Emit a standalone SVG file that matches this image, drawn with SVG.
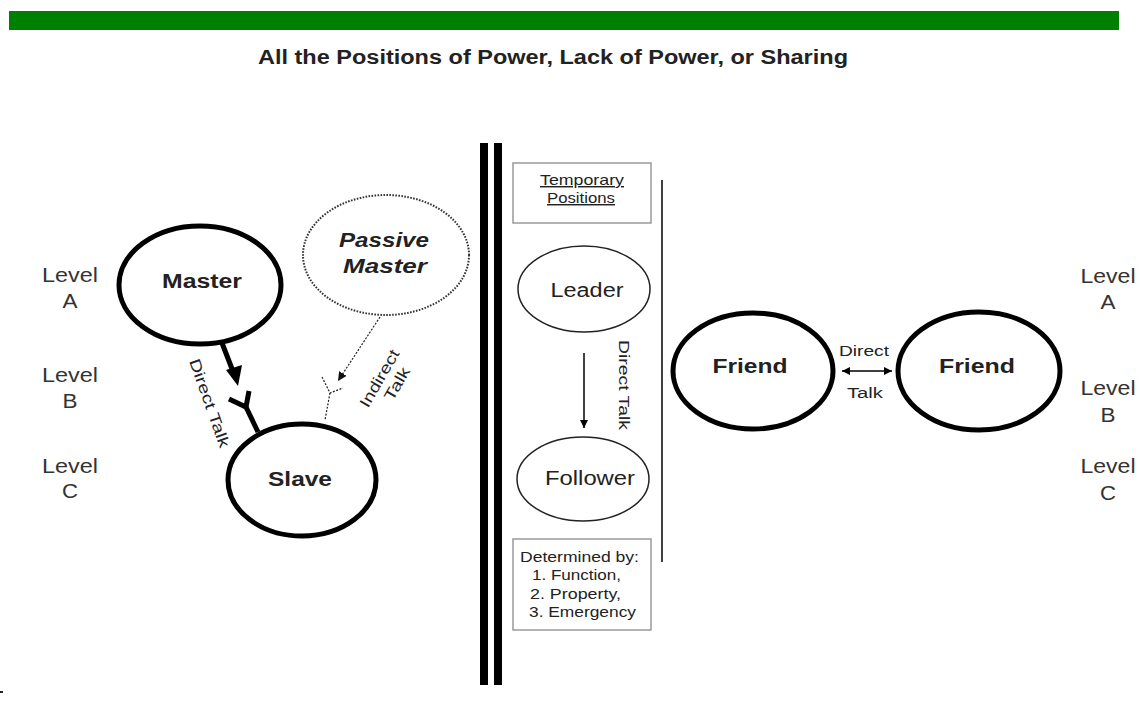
<svg xmlns="http://www.w3.org/2000/svg" width="1140" height="702" viewBox="0 0 1140 702">
  <defs>
    <style>
      text { font-family: "Liberation Sans", Arial, sans-serif; fill: #222; }
      .title { font-size: 19.5px; font-weight: bold; text-anchor: middle; }
      .lvl { font-size: 19.5px; text-anchor: middle; fill: #333; }
      .bold { font-size: 19.5px; font-weight: bold; text-anchor: middle; }
      .boldit { font-size: 19.5px; font-weight: bold; font-style: italic; text-anchor: middle; }
      .reg { font-size: 19.5px; text-anchor: middle; }
      .small { font-size: 15.5px; }
      .note { font-size: 14.5px; }
      .heavy { fill: #fff; stroke: #000; stroke-width: 5; }
      .thin { fill: #fff; stroke: #222; stroke-width: 1.5; }
      .dotted { fill: #fff; stroke: #333; stroke-width: 2; stroke-dasharray: 1.6 1.4; }
      .box { fill: #fff; stroke: #8a8a8a; stroke-width: 1.3; }
    </style>
    <marker id="tipThin" viewBox="0 0 10 10" refX="10" refY="5" markerWidth="8" markerHeight="8" markerUnits="userSpaceOnUse" orient="auto-start-reverse">
      <path d="M0,0 L10,5 L0,10 Z" fill="#000"/>
    </marker>
    <marker id="tipDotted" viewBox="0 0 10 10" refX="10" refY="5" markerWidth="9" markerHeight="9" markerUnits="userSpaceOnUse" orient="auto">
      <path d="M0,0 L10,5 L0,10 Z" fill="#111"/>
    </marker>
  </defs>

  <rect x="0" y="0" width="1140" height="702" fill="#fff"/>

  <!-- header band and title -->
  <rect x="9" y="11" width="1110" height="19" fill="#008000"/>
  <text class="title" x="553" y="64" textLength="590" lengthAdjust="spacingAndGlyphs">All the Positions of Power, Lack of Power, or Sharing</text>

  <!-- level labels, left -->
  <g id="levels-left">
    <text class="lvl" x="70" y="282" textLength="56" lengthAdjust="spacingAndGlyphs">Level</text>
    <text class="lvl" x="70" y="308" textLength="15" lengthAdjust="spacingAndGlyphs">A</text>
    <text class="lvl" x="70" y="382" textLength="56" lengthAdjust="spacingAndGlyphs">Level</text>
    <text class="lvl" x="70" y="408" textLength="15" lengthAdjust="spacingAndGlyphs">B</text>
    <text class="lvl" x="70" y="473" textLength="56" lengthAdjust="spacingAndGlyphs">Level</text>
    <text class="lvl" x="70" y="498" textLength="16" lengthAdjust="spacingAndGlyphs">C</text>
  </g>

  <!-- level labels, right -->
  <g id="levels-right">
    <text class="lvl" x="1108" y="283" textLength="55" lengthAdjust="spacingAndGlyphs">Level</text>
    <text class="lvl" x="1108" y="309" textLength="15" lengthAdjust="spacingAndGlyphs">A</text>
    <text class="lvl" x="1108" y="395" textLength="55" lengthAdjust="spacingAndGlyphs">Level</text>
    <text class="lvl" x="1108" y="422" textLength="15" lengthAdjust="spacingAndGlyphs">B</text>
    <text class="lvl" x="1108" y="473" textLength="55" lengthAdjust="spacingAndGlyphs">Level</text>
    <text class="lvl" x="1108" y="500" textLength="16" lengthAdjust="spacingAndGlyphs">C</text>
  </g>

  <!-- dividers -->
  <g id="dividers">
    <rect x="480" y="143" width="8" height="542" fill="#000"/>
    <rect x="494" y="143" width="8" height="542" fill="#000"/>
    <line x1="662" y1="180" x2="662" y2="562" stroke="#000" stroke-width="1.5"/>
    <rect x="0" y="691" width="3" height="2" fill="#222"/>
  </g>

  <!-- connectors -->
  <g id="connectors">
    <!-- master to slave: heavy arrow and receiving fork -->
    <line x1="222" y1="343" x2="234" y2="374" stroke="#000" stroke-width="5"/>
    <path d="M226,370 L238,386 L242,365 Z" fill="#000"/>
    <polyline points="229,399 246,407 249,391" fill="none" stroke="#000" stroke-width="5" stroke-linejoin="miter"/>
    <line x1="246" y1="407" x2="258" y2="432" stroke="#000" stroke-width="5"/>
    <text class="small" transform="translate(189,361) rotate(70.5)" textLength="93" lengthAdjust="spacingAndGlyphs">Direct Talk</text>

    <!-- passive master to slave: dotted arrow and fork -->
    <line x1="380" y1="317" x2="338" y2="381" stroke="#222" stroke-width="1.2" stroke-dasharray="2 1.5" marker-end="url(#tipDotted)"/>
    <polyline points="322,377 330,393 343,388" fill="none" stroke="#222" stroke-width="1.2" stroke-dasharray="2 1.5"/>
    <line x1="330" y1="393" x2="325" y2="420" stroke="#222" stroke-width="1.2" stroke-dasharray="2 1.5"/>
    <g transform="translate(384,381) rotate(-60)">
      <text class="small" x="0" y="0" text-anchor="middle" textLength="64" lengthAdjust="spacingAndGlyphs">Indirect</text>
      <text class="small" x="4" y="18" text-anchor="middle" textLength="36" lengthAdjust="spacingAndGlyphs">Talk</text>
    </g>

    <!-- leader to follower -->
    <line x1="584" y1="353" x2="584" y2="428" stroke="#000" stroke-width="1.5" marker-end="url(#tipThin)"/>
    <text class="small" transform="translate(619,340) rotate(90)" textLength="90" lengthAdjust="spacingAndGlyphs">Direct Talk</text>

    <!-- friend to friend -->
    <line x1="842" y1="371" x2="892" y2="371" stroke="#000" stroke-width="1.5" marker-start="url(#tipThin)" marker-end="url(#tipThin)"/>
    <text class="small" x="864" y="356" text-anchor="middle" textLength="50" lengthAdjust="spacingAndGlyphs">Direct</text>
    <text class="small" x="865" y="398" text-anchor="middle" textLength="36" lengthAdjust="spacingAndGlyphs">Talk</text>
  </g>

  <!-- nodes -->
  <g id="master">
    <ellipse class="heavy" cx="200" cy="285" rx="81" ry="59"/>
    <text class="bold" x="202" y="288" textLength="80" lengthAdjust="spacingAndGlyphs">Master</text>
  </g>

  <g id="slave">
    <ellipse class="heavy" cx="302" cy="480" rx="74" ry="56"/>
    <text class="bold" x="300" y="486" textLength="64" lengthAdjust="spacingAndGlyphs">Slave</text>
  </g>

  <g id="passive-master">
    <ellipse class="dotted" cx="386" cy="255" rx="83" ry="60"/>
    <text class="boldit" x="384" y="247" textLength="90" lengthAdjust="spacingAndGlyphs">Passive</text>
    <text class="boldit" x="385" y="273" textLength="84" lengthAdjust="spacingAndGlyphs">Master</text>
  </g>

  <g id="temporary-positions">
    <rect class="box" x="513" y="163" width="138" height="60"/>
    <text class="note" x="582" y="185" text-anchor="middle" text-decoration="underline" textLength="84" lengthAdjust="spacingAndGlyphs">Temporary</text>
    <text class="note" x="581" y="203" text-anchor="middle" text-decoration="underline" textLength="68" lengthAdjust="spacingAndGlyphs">Positions</text>
  </g>

  <g id="leader">
    <ellipse class="thin" cx="584" cy="289" rx="66" ry="43"/>
    <text class="reg" x="587" y="297" textLength="73" lengthAdjust="spacingAndGlyphs">Leader</text>
  </g>

  <g id="follower">
    <ellipse class="thin" cx="583" cy="479" rx="66" ry="42"/>
    <text class="reg" x="590" y="485" textLength="90" lengthAdjust="spacingAndGlyphs">Follower</text>
  </g>

  <g id="determined-by">
    <rect class="box" x="513" y="539" width="138" height="91"/>
    <text class="note" x="520" y="562" textLength="119" lengthAdjust="spacingAndGlyphs">Determined by:</text>
    <text class="note" x="532" y="580" textLength="89" lengthAdjust="spacingAndGlyphs">1. Function,</text>
    <text class="note" x="530" y="599" textLength="91" lengthAdjust="spacingAndGlyphs">2. Property,</text>
    <text class="note" x="529" y="617" textLength="107" lengthAdjust="spacingAndGlyphs">3. Emergency</text>
  </g>

  <g id="friend-left">
    <ellipse class="heavy" cx="753" cy="371" rx="80" ry="58"/>
    <text class="bold" x="750" y="373" textLength="75" lengthAdjust="spacingAndGlyphs">Friend</text>
  </g>

  <g id="friend-right">
    <ellipse class="heavy" cx="979" cy="371" rx="81" ry="59"/>
    <text class="bold" x="977" y="373" textLength="76" lengthAdjust="spacingAndGlyphs">Friend</text>
  </g>
</svg>
